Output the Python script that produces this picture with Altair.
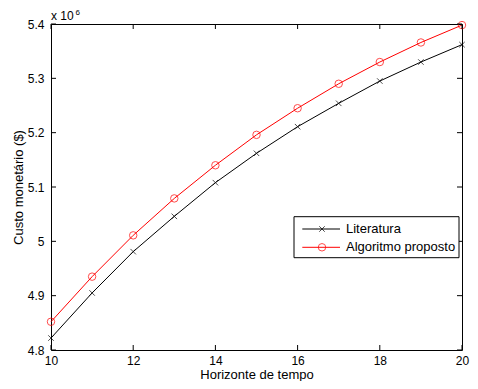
import altair as alt
import pandas as pd

# ---- data ----
horizonte = [10, 11, 12, 13, 14, 15, 16, 17, 18, 19, 20]
literatura = [4.822, 4.905, 4.981, 5.046, 5.108, 5.162, 5.211, 5.254, 5.295, 5.330, 5.362]
proposto = [4.852, 4.935, 5.011, 5.079, 5.140, 5.196, 5.245, 5.290, 5.330, 5.366, 5.398]
series_names = ["Literatura", "Algoritmo proposto"]
series_colors = ["#000000", "#ff0000"]
x_ticks = [10, 12, 14, 16, 18, 20]
y_ticks = [4.8, 4.9, 5.0, 5.1, 5.2, 5.3, 5.4]
x_title = "Horizonte de tempo"
y_title = "Custo monetário ($)"
exp_base = "x 10"
exp_power = "6"

W, H = 411, 326
FONT = "Liberation Sans"
X_SHAPE = "M-1,-1L1,1M-1,1L1,-1"

df = pd.DataFrame({
    "h": horizonte * 2,
    "custo": literatura + proposto,
    "serie": [series_names[0]] * len(horizonte) + [series_names[1]] * len(horizonte),
})
xt = pd.DataFrame({"t": x_ticks})
yt = pd.DataFrame({"t": y_ticks})
one = pd.DataFrame({"k": [0]})

xs = alt.Scale(domain=[10, 20], nice=False, zero=False)
ys = alt.Scale(domain=[4.8, 5.4], nice=False, zero=False)
cs = alt.Scale(domain=series_names, range=series_colors)

x_axis = alt.Axis(values=x_ticks, ticks=False, tickSize=0, domain=False, grid=False,
                  labelFont=FONT, labelFontSize=12, labelColor="black", labelPadding=5,
                  labelFlush=False, title=x_title, titleFont=FONT, titleFontSize=13,
                  titleFontWeight="normal", titleColor="black", titleX=W / 2, titleY=28,
                  titleBaseline="alphabetic", titleAlign="center")
y_axis = alt.Axis(values=y_ticks, format="~g", ticks=False, tickSize=0, domain=False,
                  grid=False, labelFont=FONT, labelFontSize=12, labelColor="black",
                  labelPadding=7, title=y_title, titleFont=FONT, titleFontSize=13,
                  titleFontWeight="normal", titleColor="black", titleAngle=270,
                  titleX=-29, titleY=H / 2, titleBaseline="alphabetic", titleAlign="center")

X = alt.X("h:Q", scale=xs, axis=x_axis)
Y = alt.Y("custo:Q", scale=ys, axis=y_axis)

lines = alt.Chart(df).mark_line(strokeWidth=1).encode(
    x=X, y=Y, color=alt.Color("serie:N", scale=cs, legend=None),
)

pts_lit = alt.Chart(df).transform_filter(
    alt.datum.serie == series_names[0]
).mark_point(shape=X_SHAPE, filled=False, strokeWidth=1, size=30,
             color=series_colors[0]).encode(x=X, y=Y)
pts_pro = alt.Chart(df).transform_filter(
    alt.datum.serie == series_names[1]
).mark_point(shape="circle", filled=False, strokeWidth=1, size=56,
             color=series_colors[1]).encode(x=X, y=Y)

# inward ticks (MATLAB style) on all four sides
XT = alt.X("t:Q", scale=xs, axis=x_axis)
YT = alt.Y("t:Q", scale=ys, axis=y_axis)
tick_b = alt.Chart(xt).mark_rule(color="black", strokeWidth=1).encode(
    x=XT, y=alt.value(H), y2=alt.value(H - 5))
tick_t = alt.Chart(xt).mark_rule(color="black", strokeWidth=1).encode(
    x=XT, y=alt.value(0), y2=alt.value(5))
tick_l = alt.Chart(yt).mark_rule(color="black", strokeWidth=1).encode(
    y=YT, x=alt.value(0), x2=alt.value(5))
tick_r = alt.Chart(yt).mark_rule(color="black", strokeWidth=1).encode(
    y=YT, x=alt.value(W - 5), x2=alt.value(W))

# exponent label
exp1 = alt.Chart(one).mark_text(align="left", baseline="alphabetic", font=FONT,
                                fontSize=12, color="black").encode(
    x=alt.value(0), y=alt.value(-4.5), text=alt.value(exp_base))
exp2 = alt.Chart(one).mark_text(align="left", baseline="alphabetic", font=FONT,
                                fontSize=8, color="black").encode(
    x=alt.value(24.5), y=alt.value(-9.5), text=alt.value(exp_power))

# legend box (anchored near the right edge of the plot)
L0 = W - 168
leg_box = alt.Chart(one).mark_rect(fill="white", stroke="black", strokeWidth=1).encode(
    x=alt.value(L0), x2=alt.value(L0 + 165), y=alt.value(192.7), y2=alt.value(233.7))
leg_layers = [leg_box]
row_y = [205, 223.3]
shapes = [(X_SHAPE, 30), ("circle", 56)]
for i, name in enumerate(series_names):
    leg_layers.append(alt.Chart(one).mark_rule(color=series_colors[i], strokeWidth=1).encode(
        x=alt.value(L0 + 8.3), x2=alt.value(L0 + 46), y=alt.value(row_y[i])))
    leg_layers.append(alt.Chart(one).mark_point(shape=shapes[i][0], size=shapes[i][1],
                                                filled=False, strokeWidth=1,
                                                color=series_colors[i]).encode(
        x=alt.value(L0 + 28), y=alt.value(row_y[i])))
    leg_layers.append(alt.Chart(one).mark_text(align="left", baseline="middle", font=FONT,
                                               fontSize=13, color="black").encode(
        x=alt.value(L0 + 52), y=alt.value(row_y[i]), text=alt.value(name)))

chart = alt.layer(
    lines, pts_lit, pts_pro, tick_b, tick_t, tick_l, tick_r, exp1, exp2, *leg_layers
).properties(
    width=W, height=H,
    autosize=alt.AutoSizeParams(type="none"),
    padding={"left": 43, "top": 16, "right": 8, "bottom": 31},
).configure_view(stroke="black", strokeWidth=1)

chart.save("out.html", embed_options={"renderer": "svg", "actions": False})
